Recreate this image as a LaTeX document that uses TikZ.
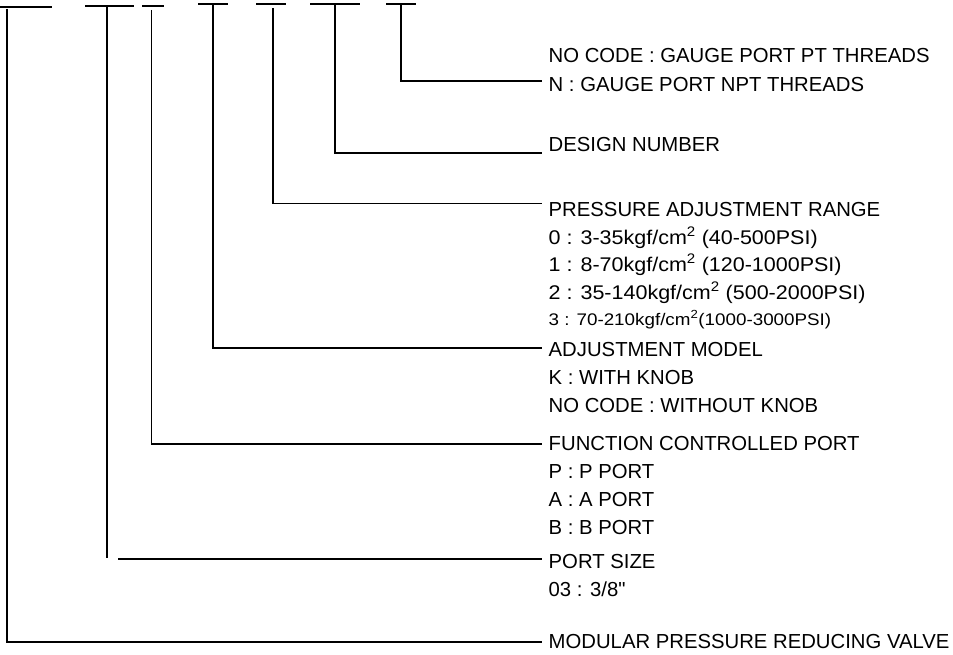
\documentclass[tikz,border=0pt]{standalone}
\usepackage{fontspec}
\setmainfont{Liberation Sans}
\newfontfamily\widefont[FakeStretch=1.086]{Liberation Sans}
\newfontfamily\smallwidefont[FakeStretch=1.12]{Liberation Sans}
\newcommand{\straightquote}{\XeTeXglyph\XeTeXcharglyph"22\relax}
\begin{document}
\begin{tikzpicture}[x=1pt,y=-1pt,
  lbl/.style={anchor=base west, inner sep=0pt, font=\fontsize{20.3}{24}\selectfont},
  numlbl/.style={anchor=base west, inner sep=0pt, font=\widefont\fontsize{19.8}{24}\selectfont},
  smalllbl/.style={anchor=base west, inner sep=0pt, font=\smallwidefont\fontsize{16.8}{20}\selectfont},
  bar/.style={line width=2pt},
  lead/.style={line width=1.8pt}]
\useasboundingbox (0,0) rectangle (953,655);

% top code bars
\coordinate (a1) at (0,6.7);   \coordinate (z1) at (52,6.7);
\coordinate (a2) at (85,6);    \coordinate (z2) at (134,6);
\coordinate (a3) at (142,6);   \coordinate (z3) at (164,6);
\coordinate (a4) at (198,4);   \coordinate (z4) at (228,4);
\coordinate (a5) at (256,4);   \coordinate (z5) at (286,4);
\coordinate (a6) at (310,4);   \coordinate (z6) at (360,4);
\coordinate (a7) at (386,4);   \coordinate (z7) at (416,4);
\foreach \i in {1,...,7} {\draw[bar] (a\i) -- (z\i);}

% leader start points
\coordinate (s1) at (7,9);
\coordinate (s2) at (107,6);
\coordinate (s3) at (151.5,10);
\coordinate (s4) at (213,4);
\coordinate (s5) at (273,8);
\coordinate (s6) at (335,4);
\coordinate (s7) at (401,4);

% leader end points
\coordinate (e1) at (542,642);
\coordinate (c2) at (107,558);
\coordinate (f2) at (118,559);
\coordinate (e2) at (542,559);
\coordinate (e3) at (542,444);
\coordinate (e4) at (542,348);
\coordinate (e5) at (542,203.5);
\coordinate (e6) at (542,152.7);
\coordinate (e7) at (542,80.7);

% texts
\node[lbl] (t7a) at (548.5,62.2) {NO CODE : GAUGE PORT PT THREADS};
\node[lbl] (t7b) at (548.5,91.7) {N : GAUGE PORT NPT THREADS};
\node[lbl] (t6) at (548.5,151.2) {DESIGN NUMBER};
\node[lbl] (t5) at (548.5,216.7) {PRESSURE ADJUSTMENT RANGE};
\node[numlbl] (t50) at (548.5,244) {0 : 3-35kgf/cm\textsuperscript{2} (40-500PSI)};
\node[numlbl] (t51) at (548.5,271) {1 : 8-70kgf/cm\textsuperscript{2} (120-1000PSI)};
\node[numlbl] (t52) at (548.5,299) {2 : 35-140kgf/cm\textsuperscript{2} (500-2000PSI)};
\node[smalllbl] (t53) at (548.5,325) {3 : 70-210kgf/cm\textsuperscript{2}(1000-3000PSI)};
\node[lbl] (t4) at (548.5,356.7) {ADJUSTMENT MODEL};
\node[lbl] (t4a) at (548.5,384.7) {K : WITH KNOB};
\node[lbl] (t4b) at (548.5,412.7) {NO CODE : WITHOUT KNOB};
\node[lbl] (t3) at (548.5,450.7) {FUNCTION CONTROLLED PORT};
\node[lbl] (t3a) at (548.5,478.2) {P : P PORT};
\node[lbl] (t3b) at (548.5,506.2) {A : A PORT};
\node[lbl] (t3c) at (548.5,534.2) {B : B PORT};
\node[lbl] (t2) at (548.5,568.2) {PORT SIZE};
\node[lbl] (t2a) at (548.5,596.2) {03 : 3/8\straightquote};
\node[lbl] (t1) at (548.5,648.7) {MODULAR PRESSURE REDUCING VALVE};

% leaders
\draw[lead] (s1) |- (e1);
\draw[lead] (s2) -- (c2);
\draw[lead] (f2) -- (e2);
\draw[lead] (s3) |- (e3);
\draw[lead] (s4) |- (e4);
\draw[lead] (s5) |- (e5);
\draw[lead] (s6) |- (e6);
\draw[lead] (s7) |- (e7);
\end{tikzpicture}
\end{document}
